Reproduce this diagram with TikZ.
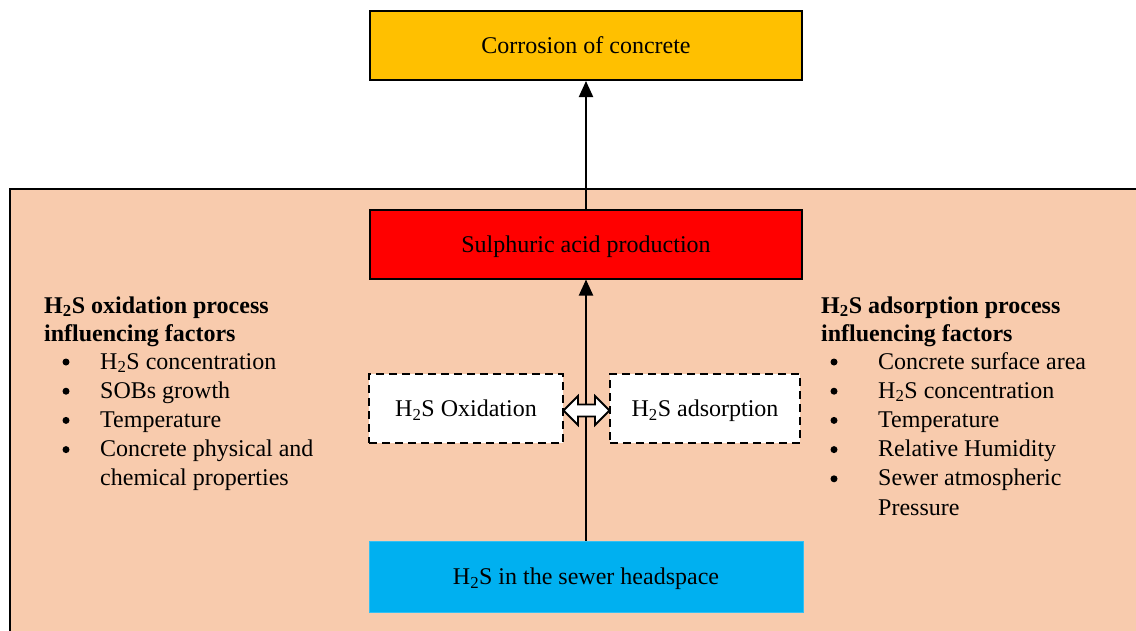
\documentclass[tikz,border=0pt]{standalone}
\usepackage{fontspec}
\setmainfont{Liberation Serif}
\usetikzlibrary{arrows.meta,shapes.arrows}
\definecolor{bgpeach}{HTML}{F8CBAD}
\definecolor{corrY}{HTML}{FFC000}
\definecolor{acidR}{HTML}{FF0000}
\definecolor{skyB}{HTML}{00B0F0}
\newcommand{\hts}{H\textsubscript{2}S}
\tikzset{
  boxbase/.style={minimum width=432pt, minimum height=69pt, inner sep=0pt, text depth=0pt, font=\fontsize{24}{28}\selectfont},
  solidbox/.style={boxbase, draw=black, line width=2pt},
  dashbox/.style={draw=black, fill=white, line width=2.2pt, dash pattern=on 8pt off 5pt, minimum height=69pt, inner sep=0pt, text depth=0pt, font=\fontsize{24}{28}\selectfont},
  flow/.style={line width=2pt, -{Triangle[width=14pt,length=16pt]}},
  headtxt/.style={anchor=base west, inner sep=0pt, font=\bfseries\fontsize{24}{28}\selectfont},
  listtxt/.style={anchor=base west, inner sep=0pt, font=\fontsize{24}{29}\selectfont},
  bul/.style={circle, fill=black, inner sep=0pt, minimum size=7pt}
}
\begin{document}
\begin{tikzpicture}[x=1pt,y=-1pt]
\useasboundingbox (0,0) rectangle (1136,630);
\fill[white] (0,0) rectangle (1136,630);
% big background panel
\draw[fill=bgpeach, line width=2pt] (1145,189) -- (10,189) -- (10,640) -- (1145,640);
% main boxes
\node[solidbox, fill=corrY] (corr) at (586,45.5) {Corrosion of concrete};
\node[solidbox, fill=acidR] (acid) at (586,244) {Sulphuric acid production};
\node[boxbase, fill=skyB, draw=skyB!80!white, line width=0.6pt, minimum width=434pt, minimum height=71pt] (h2s) at (586,576.5) {\hts\ in the sewer headspace};
\node[dashbox, minimum width=194pt] (oxi) at (466,408.5) {\hts\ Oxidation};
\node[dashbox, minimum width=190pt] (ads) at (705,408.5) {\hts\ adsorption};
% connectors
\draw[flow] (h2s.north) -- (acid.south);
\draw[flow] (acid.north) -- (corr.south);
\node[double arrow, draw=black, fill=white, line width=1.8pt, minimum height=46pt, minimum width=29pt, double arrow head extend=8.5pt, inner sep=5pt] (dbl) at (586.5,410.5) {};
% left text
\node[headtxt] (lh1) at (44,313) {\hts\ oxidation process};
\node[headtxt] (lh2) at (44,341) {influencing factors};
\foreach \t [count=\i] in {{\hts\ concentration},{SOBs growth},{Temperature},{Concrete physical and}, {chemical properties}}{
  \node[listtxt] (l\i) at (100,369+29.2*\i-29.2) {\t};
}
\foreach \i in {1,2,3,4}{ \node[bul] (lb\i) at (66,362+29.2*\i-29.2) {}; }
% right text
\node[headtxt] (rh1) at (821,313) {\hts\ adsorption process};
\node[headtxt] (rh2) at (821,341) {influencing factors};
\foreach \t [count=\i] in {{Concrete surface area},{\hts\ concentration},{Temperature},{Relative Humidity},{Sewer atmospheric},{Pressure}}{
  \node[listtxt] (r\i) at (878,369+29.2*\i-29.2) {\t};
}
\foreach \i in {1,2,3,4,5}{ \node[bul] (rb\i) at (834,362+29.2*\i-29.2) {}; }
\end{tikzpicture}
\end{document}
